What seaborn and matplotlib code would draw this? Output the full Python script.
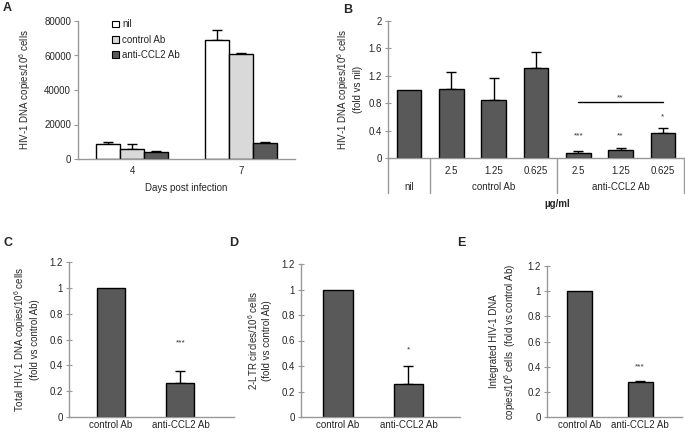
import numpy as np
import pandas as pd
import matplotlib
matplotlib.use("Agg")
import matplotlib.pyplot as plt
import matplotlib.transforms as mtransforms
from matplotlib.patches import Patch
import seaborn as sns

sns.set_theme(style="white")
plt.rcParams['font.family'] = ['Liberation Sans', 'DejaVu Sans']
plt.rcParams['mathtext.default'] = 'regular'

# ---------------- data ----------------
days = ['4', '7']
treatments = ['nil', 'control Ab', 'anti-CCL2 Ab']
a_nil = [8500, 69000]
a_nil_err = [1600, 5500]
a_ctrl = [6000, 61000]
a_ctrl_err = [2600, 500]
a_anti = [4300, 9300]
a_anti_err = [500, 500]

b_keys = ['nil', 'c2.5', 'c1.25', 'c0.625', 'a2.5', 'a1.25', 'a0.625']
b_ticklabels = ['', '2.5', '1.25', '0.625', '2.5', '1.25', '0.625']
b_groups = ['nil', 'control Ab', 'anti-CCL2 Ab']
b_vals = [1.0, 1.01, 0.85, 1.32, 0.08, 0.12, 0.37]
b_err = [0.0, 0.25, 0.32, 0.23, 0.02, 0.03, 0.07]
b_stars = ['', '', '', '', '***', '**', '*']
b_star_y = [0, 0, 0, 0, 0.33, 0.33, 0.60]

cd_cats = ['control Ab', 'anti-CCL2 Ab']
c_vals = [1.0, 0.26]
c_err = [0.0, 0.095]
d_vals = [1.0, 0.26]
d_err = [0.0, 0.14]
e_vals = [1.0, 0.28]
e_err = [0.0, 0.01]

DARK = '#595959'
LIGHT = '#d9d9d9'
WHITE = '#ffffff'
SPINE = '#999999'
FS = 7

W, H = 685, 434
fig = plt.figure(figsize=(W / 100, H / 100), dpi=100)


def rect(l, r, t, b):
    return [l / W, 1 - b / H, (r - l) / W, (b - t) / H]


def style(ax):
    for s in ['top', 'right']:
        ax.spines[s].set_visible(False)
    for s in ['left', 'bottom']:
        ax.spines[s].set_color(SPINE)
        ax.spines[s].set_linewidth(1)
    ax.tick_params(axis='y', direction='inout', length=5, width=0.8,
                   color=SPINE, labelsize=FS, pad=2, left=True)
    ax.tick_params(axis='x', length=0, labelsize=FS, pad=5)
    ax.set_facecolor('white')


def errbars(ax, errs):
    bars = [p for c in ax.containers for p in c]
    for bar, e in zip(bars, errs):
        if e <= 0:
            continue
        x = bar.get_x() + bar.get_width() / 2
        h = bar.get_height()
        ax.errorbar(x, h, yerr=[[0], [e]], fmt='none', ecolor='black',
                    elinewidth=1, capsize=3.5, capthick=1, zorder=1)


# ---------------- Panel A ----------------
axA = fig.add_axes(rect(78, 295, 21, 159))
dfA = pd.DataFrame({
    'day': days * 3,
    'treat': [t for t in treatments for _ in days],
    'val': a_nil + a_ctrl + a_anti,
})
sns.barplot(data=dfA, x='day', y='val', hue='treat', order=days,
            hue_order=treatments, palette=[WHITE, LIGHT, DARK],
            edgecolor='black', linewidth=1, width=0.667, errorbar=None,
            legend=False, ax=axA, zorder=2)
errbars(axA, a_nil_err + a_ctrl_err + a_anti_err)
axA.set_xlim(-0.5, 1.5)
axA.set_ylim(0, 80000)
axA.set_yticks([0, 20000, 40000, 60000, 80000])
axA.set_ylabel('HIV-1 DNA copies/10$^6$ cells', fontsize=FS, labelpad=8)
axA.set_xlabel('Days post infection', fontsize=FS, labelpad=5)
style(axA)
axA.tick_params(axis='y', direction='out', length=3)
handles = [Patch(facecolor=c, edgecolor='black', linewidth=0.8, label=t)
           for c, t in zip([WHITE, LIGHT, DARK], treatments)]
axA.legend(handles=handles, loc='upper left', bbox_to_anchor=(0.14, 1.04),
           frameon=False, fontsize=FS, handlelength=0.7, handleheight=0.7,
           handletextpad=0.3, labelspacing=0.55, borderaxespad=0)

# ---------------- Panel B ----------------
axB = fig.add_axes(rect(388, 684, 21, 158))
dfB = pd.DataFrame({'key': b_keys, 'val': b_vals})
sns.barplot(data=dfB, x='key', y='val', order=b_keys, color=DARK,
            saturation=1, edgecolor='black', linewidth=1, width=0.58,
            errorbar=None, ax=axB, zorder=2)
errbars(axB, b_err)
axB.set_xlim(-0.5, 6.5)
axB.set_ylim(0, 2)
axB.set_yticks([0, 0.4, 0.8, 1.2, 1.6, 2])
axB.set_yticklabels(['0', '0.4', '0.8', '1.2', '1.6', '2'])
axB.set_xticks(range(len(b_keys)))
axB.set_xticklabels(b_ticklabels)
axB.set_xlabel('')
axB.set_ylabel('HIV-1 DNA copies/10$^6$ cells\n(fold vs nil)', fontsize=FS,
               labelpad=4)
style(axB)
axB.tick_params(axis='x', pad=6)
trB = mtransforms.blended_transform_factory(axB.transData, axB.transAxes)
ybot = (158 - 193) / 137.0
for xv in [-0.5, 0.5, 3.5, 6.5]:
    axB.plot([xv, xv], [0, ybot], transform=trB, color=SPINE, lw=1,
             clip_on=False)
grp_x = [0, 2, 5]
for gx, g in zip(grp_x, b_groups):
    axB.text(gx, (158 - 187) / 137.0, g, transform=trB, ha='center',
             va='center', fontsize=FS)
axB.text(3.5, (158 - 204) / 137.0, 'µg/ml', transform=trB, ha='center',
         va='center', fontsize=FS, fontweight='bold')
for i, (s, sy) in enumerate(zip(b_stars, b_star_y)):
    if s:
        axB.text(i, sy, s, ha='center', va='center', fontsize=FS - 1,
                 color='#333333')
axB.plot([4, 6], [0.82, 0.82], color='black', lw=1)
axB.text(5, 0.88, '**', ha='center', va='center', fontsize=FS - 1,
         color='#333333')


# ---------------- Panels C, D, E ----------------
def small_panel(r, vals, errs, width, xlim, ylabel, star, star_y, labelpad):
    ax = fig.add_axes(r)
    df = pd.DataFrame({'cat': cd_cats, 'val': vals})
    sns.barplot(data=df, x='cat', y='val', order=cd_cats, color=DARK,
                saturation=1, edgecolor='black', linewidth=1, width=width,
                errorbar=None, ax=ax, zorder=2)
    errbars(ax, errs)
    ax.set_xlim(*xlim)
    ax.set_ylim(0, 1.2)
    ax.set_yticks([0, 0.2, 0.4, 0.6, 0.8, 1.0, 1.2])
    ax.set_yticklabels(['0', '0.2', '0.4', '0.6', '0.8', '1', '1.2'])
    ax.set_xlabel('')
    ax.set_ylabel(ylabel, fontsize=FS, labelpad=labelpad)
    style(ax)
    ax.tick_params(axis='x', pad=2)
    ax.text(1, star_y, star, ha='center', va='center', fontsize=FS - 1,
            color='#333333')
    return ax


axC = small_panel(rect(69, 234, 262, 417), c_vals, c_err, 0.40,
                  (-0.6, 1.77),
                  'Total HIV-1 DNA copies/10$^6$ cells\n(fold vs control Ab)',
                  '***', 0.57, 7)
axD = small_panel(rect(301, 460, 264, 417), d_vals, d_err, 0.42,
                  (-0.52, 1.73),
                  '2-LTR circles/10$^6$ cells\n(fold vs control Ab)',
                  '*', 0.53, 7)
axE = small_panel(rect(547, 682, 266, 417), e_vals, e_err, 0.41,
                  (-0.54, 1.69),
                  'Integrated HIV-1 DNA\ncopies/10$^6$ cells  (fold vs control Ab)',
                  '***', 0.40, 7)

# panel letters
for lbl, x, y in [('A', 3, 8), ('B', 343, 10), ('C', 3, 243),
                  ('D', 229, 243), ('E', 457, 243)]:
    fig.text(x / W, 1 - y / H, lbl, fontsize=9, fontweight='bold',
             ha='left', va='center')

fig.savefig('out.png', dpi=100, facecolor='white')
